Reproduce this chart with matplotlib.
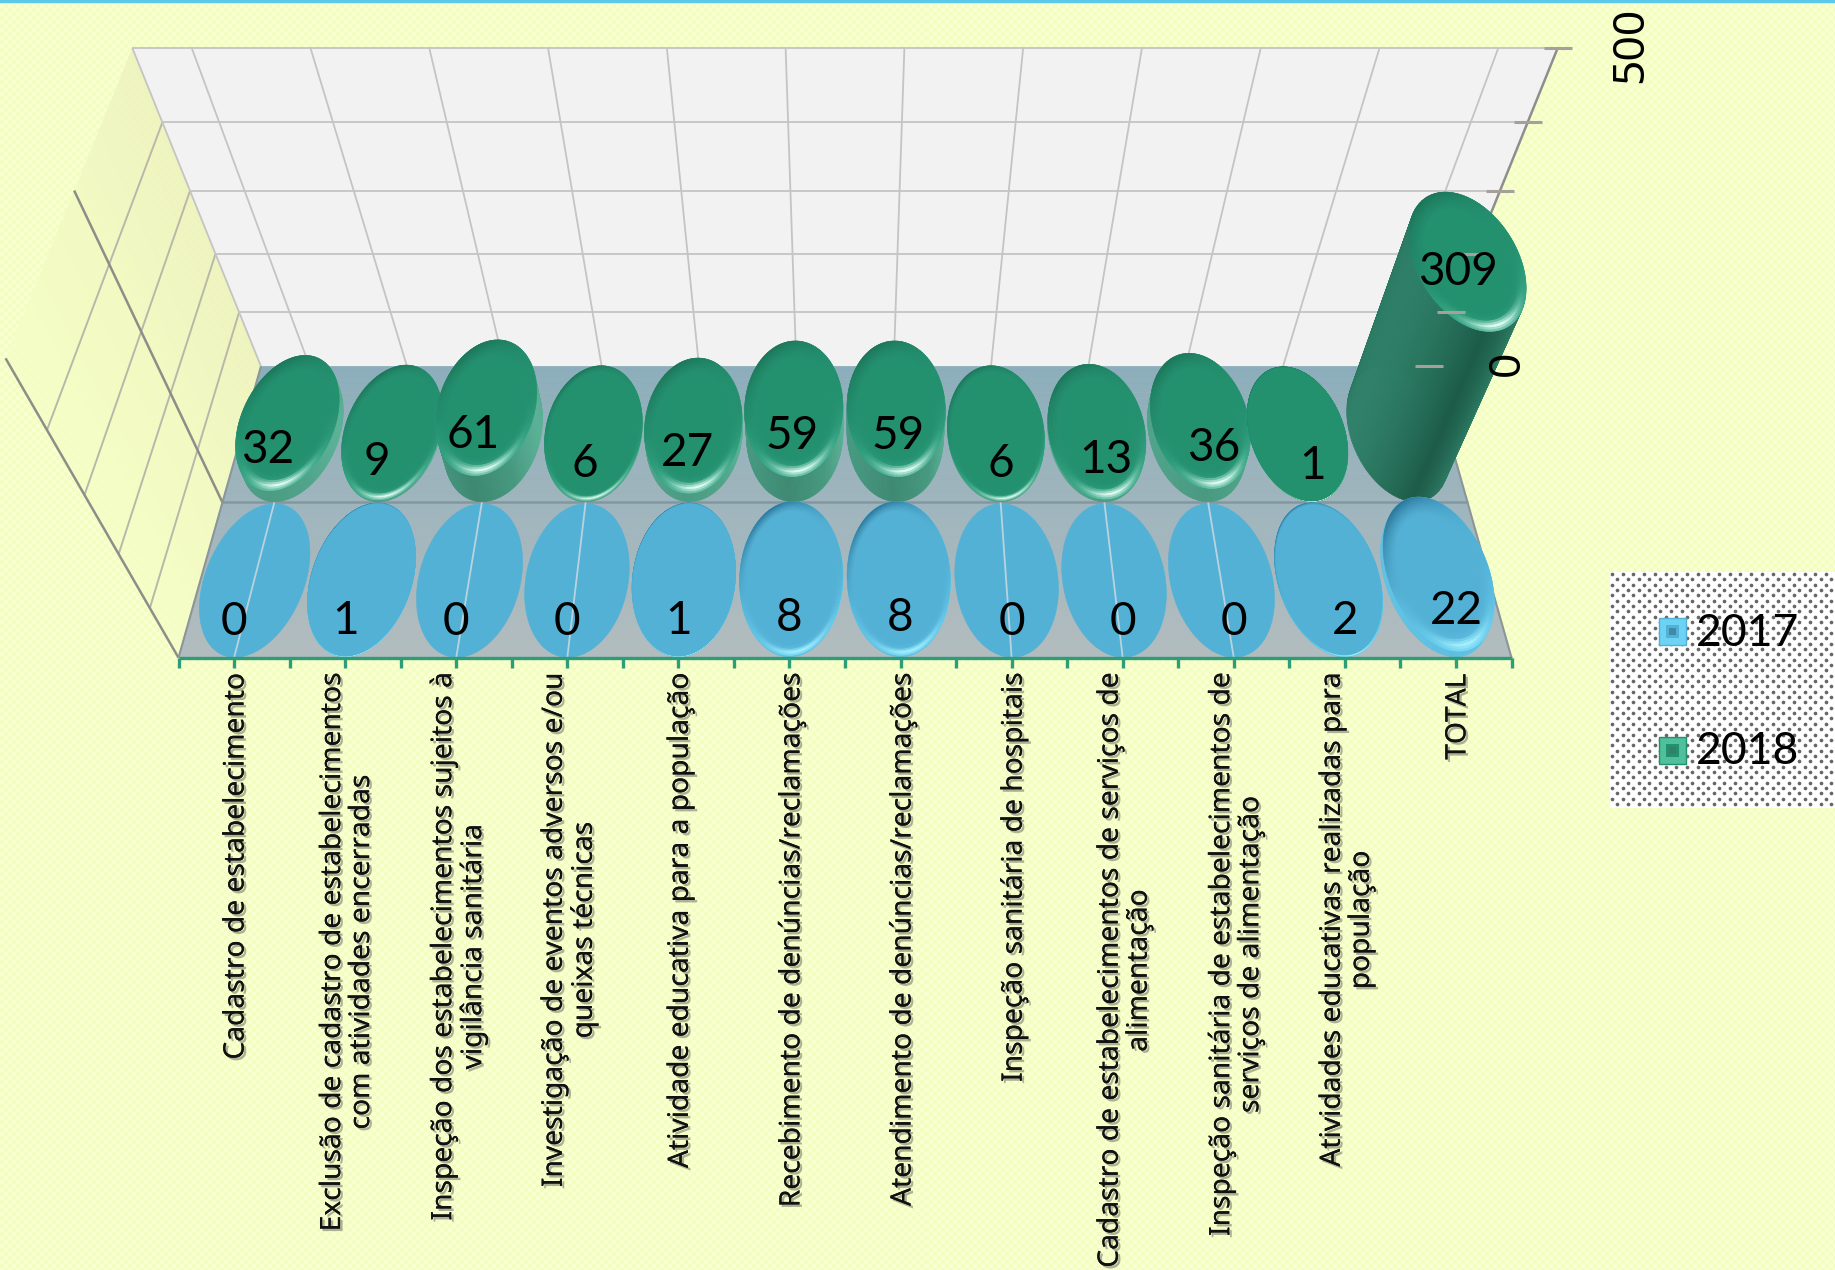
import numpy as np
import matplotlib
matplotlib.use("Agg")
import matplotlib.pyplot as plt
import matplotlib.patheffects as pe
from matplotlib.collections import PolyCollection
from matplotlib.colors import to_rgb

categorias = [
    "Cadastro de estabelecimento",
    "Exclusão de cadastro de estabelecimentos\ncom atividades encerradas",
    "Inspeção dos estabelecimentos sujeitos à\nvigilância sanitária",
    "Investigação de eventos adversos e/ou\nqueixas técnicas",
    "Atividade educativa para a população",
    "Recebimento de denúncias/reclamações",
    "Atendimento de denúncias/reclamações",
    "Inspeção sanitária de hospitais",
    "Cadastro de estabelecimentos de serviços de\nalimentação",
    "Inspeção sanitária de estabelecimentos de\nserviços de alimentação",
    "Atividades educativas realizadas para\npopulação",
    "TOTAL",
]
valores_2017 = [0, 1, 0, 0, 1, 8, 8, 0, 0, 0, 2, 22]
valores_2018 = [32, 9, 61, 6, 27, 59, 59, 6, 13, 36, 1, 309]
ticks_valor = [0, 100, 200, 300, 400, 500]
rotulos_valor = {0: "0", 500: "500"}

FUNDO = "#F5FEC6"
N_CAT = len(categorias)
ZMAX = ticks_valor[-1]


# perspective of the 3d box: x = category, y = depth (0 front, 2 back), z = value
def proj(x, y, z):
    x, y, z = np.asarray(x, float), np.asarray(y, float), np.asarray(z, float)
    w = 1 + 0.0706 * y - 0.000412 * z
    u = 845 + (x - N_CAT / 2) / (N_CAT / 2) * 666.5 / w
    v = (657.7 - 119.8 * y - 0.7464 * z) / w
    return u, v


def mix(c1, c2, t):
    return tuple((1 - t) * np.array(to_rgb(c1)) + t * np.array(to_rgb(c2)))


def linha(ax, a, b, **kw):
    ua, va = proj(*a)
    ub, vb = proj(*b)
    ax.plot([ua, ub], [va, vb], solid_capstyle="butt", **kw)


fig = plt.figure(figsize=(18.35, 12.7), dpi=100, facecolor=FUNDO)
ax = fig.add_axes([0, 0, 1, 1])

# textura leve do fundo
yy, xx = np.mgrid[0:1270, 0:1835]
trama = (((xx // 4) + (yy // 4)) % 2)[..., None]
ax.imshow(trama * np.array(to_rgb("#F8FFD0")) + (1 - trama) * np.array(to_rgb("#F3FDC0")),
          extent=(0, 1835, 1270, 0), interpolation="nearest", zorder=0, aspect="auto")
ax.set_xlim(0, 1835)
ax.set_ylim(1270, 0)
ax.axis("off")

ax.plot([0, 1835], [1, 1], color="#5CC8EA", lw=2.5, zorder=1)

# parede esquerda
for i in range(30):
    y0, y1 = 2 * i / 30, 2 * (i + 1) / 30
    us, vs = proj([0, 0, 0, 0], [y0, y1, y1, y0], [0, 0, ZMAX, ZMAX])
    ax.fill(us, vs, color=mix(FUNDO, "#EEF3BE", (y0 / 2)), alpha=0.9, lw=0, zorder=1)
for t in ticks_valor[1:-1]:
    linha(ax, (0, 0, t), (0, 2, t), color="#B8B8AA", lw=1.4, zorder=2)
linha(ax, (0, 0, 0), (0, 0, ZMAX), color="#8C8F88", lw=1.8, zorder=2)
linha(ax, (0, 1, 0), (0, 1, ZMAX), color="#8C8F88", lw=1.8, zorder=2)

# parede do fundo
us, vs = proj([0, N_CAT, N_CAT, 0], [2, 2, 2, 2], [0, 0, ZMAX, ZMAX])
ax.fill(us, vs, color="#F2F2F2", lw=0, zorder=1)
for t in ticks_valor[1:]:
    linha(ax, (0, 2, t), (N_CAT, 2, t), color="#C4C4C4", lw=1.3, zorder=2)
for c in range(N_CAT):
    linha(ax, (c + 0.5, 2, 0), (c + 0.5, 2, ZMAX), color="#C4C4C4", lw=1.3, zorder=2)
linha(ax, (0, 2, 0), (0, 2, ZMAX), color="#C4C4C4", lw=1.3, zorder=2)
linha(ax, (N_CAT, 2, 0), (N_CAT, 2, ZMAX), color="#8E8E8E", lw=1.8, zorder=2)

# chao
for i in range(40):
    y0, y1 = 2 * i / 40, 2 * (i + 1) / 40
    us, vs = proj([0, N_CAT, N_CAT, 0], [y0, y0, y1, y1], [0, 0, 0, 0])
    ax.fill(us, vs, color=mix("#B2BCBE", "#8BADBB", y0 / 2), lw=0.5, zorder=2)
linha(ax, (0, 1, 0), (N_CAT, 1, 0), color="#84979F", lw=1.8, zorder=2.1)
linha(ax, (0, 0, 0), (0, 2, 0), color="#8B959A", lw=1.5, zorder=2.1)
linha(ax, (N_CAT, 0, 0), (N_CAT, 2, 0), color="#8B959A", lw=1.5, zorder=2.1)

ang = np.linspace(-np.pi, np.pi, 145)
RX, RY = 0.48, 0.495


def circulo(c, yc, z, r=1.0):
    return proj(c + RX * r * np.cos(ang), yc + RY * r * np.sin(ang), z + 0 * ang)


def cilindro(c, yc, val, topo, aba, realce, escuro, lados, zo):
    polys, cores = [], []
    # the bevel pulls the visible cap a little below the bar's value
    ztopo = val - min(val * 0.6, 10)
    if val > 0:
        ub, vb = circulo(c, yc, 0)
        ut, vt = circulo(c, yc, ztopo)
        clareia = np.clip(1 - val / 130, 0, 0.75)
        for i in np.argsort(-np.sin(ang[:-1])):
            polys.append([(ub[i], vb[i]), (ub[i + 1], vb[i + 1]), (ut[i + 1], vt[i + 1]), (ut[i], vt[i])])
            s = np.cos(ang[i])
            r = np.interp(s, [-1, -0.1, 0.6, 1], [0, 1, 2, 3])
            k = min(int(r), 2)
            cores.append(mix(mix(lados[k], lados[k + 1], r - k), lados[3], clareia))
    # tampa com chanfro
    chanfro = 0.24 * min(val / 14, 1)
    n_aneis = 8 if chanfro > 0 else 0
    raios = 1 - chanfro * np.arange(n_aneis + 1) / max(n_aneis, 1)
    for k in range(n_aneis):
        u0, v0 = circulo(c, yc, ztopo, raios[k])
        u1, v1 = circulo(c, yc, ztopo, raios[k + 1])
        peso = (1 - k / n_aneis) ** 1.3
        brilho = max(1 - abs(k - 2) / 3, 0)
        for i in range(len(ang) - 1):
            polys.append([(u0[i], v0[i]), (u0[i + 1], v0[i + 1]), (u1[i + 1], v1[i + 1]), (u1[i], v1[i])])
            frente = max(np.cos(ang[i] + np.radians(80)), 0)
            sombra = max(-np.cos(ang[i] + np.radians(60)), 0) ** 2
            cor = mix(topo, aba, frente * peso)
            cor = mix(cor, escuro, 0.85 * sombra * peso)
            cores.append(mix(cor, realce, min(frente ** 6 * brilho, 1)))
    u, v = circulo(c, yc, ztopo, raios[-1] if n_aneis else 1.0)
    polys.append(np.column_stack([u, v]))
    cores.append(to_rgb(topo))
    ax.add_collection(PolyCollection(polys, facecolors=cores, edgecolors=cores, linewidths=0.4, zorder=zo))


# 2018 na fila de tras, 2017 na frente
lados_2018 = ["#2F8068", "#1B5A46", "#2E7C64", "#5AB195"]
for i, val in enumerate(valores_2018):
    cilindro(i + 0.5, 1.5, val, "#23906E", "#38AE8B", "#E4FFF5", "#1B7257", lados_2018, 3 + i * 0.01)

# marcas do eixo de valores por cima da barra TOTAL
for t in ticks_valor:
    u, v = proj(N_CAT, 2, t)
    ax.plot([u - 14, u + 14], [v, v], color="#A6A09C", lw=2.2, zorder=4, solid_capstyle="butt")

lados_2017 = ["#3A8FB5", "#2F83AA", "#3F9EC6", "#6DD3F5"]
for i, val in enumerate(valores_2017):
    cilindro(i + 0.5, 0.5, val, "#53B1D6", "#66CFF2", "#A5F2FF", "#246E92", lados_2017, 5 + i * 0.01)
    if val == 0:
        linha(ax, (i + 0.5, 0, 0), (i + 0.5, 1, 0), color="#B9D3DE", lw=1.3, zorder=5.5)

# eixo das categorias
linha(ax, (0, 0, 0), (N_CAT, 0, 0), color="#2F9C78", lw=2.4, zorder=6)
for k in range(2 * N_CAT + 1):
    u, v = proj(k / 2, 0, 0)
    ax.plot([u, u], [v, v + 10], color="#2F9C78", lw=2.4, zorder=6, solid_capstyle="butt")

sombra_txt = [pe.withSimplePatchShadow(offset=(1.8, -1.8), shadow_rgbFace="#555555", alpha=0.45), pe.Normal()]
for i, nome in enumerate(categorias):
    u, v = proj(i + 0.5, 0, 0)
    ax.text(u + 2, v + 16, nome, rotation=90, ha="center", va="top", multialignment="center",
            family="Noto Sans", fontsize=20.3, linespacing=1.0, color="#111111",
            path_effects=sombra_txt, zorder=7)

# rotulos de dados
for i, val in enumerate(valores_2017):
    u, _ = proj(i + 0.5, 0, 0)
    _, v = proj(i + 0.5, 0.22, val)
    ax.text(u, v, str(val), ha="center", va="center", family="Lato", fontsize=33, color="black", zorder=8)
for i, val in enumerate(valores_2018):
    u, v = proj(i + 0.5, 1.25, val)
    if val > 100:
        u, v = u - 23, v - 17
    else:
        u, _ = proj(i + 0.5, 1, val)
    ax.text(u, v, str(val), ha="center", va="center", family="Lato", fontsize=33, color="black", zorder=8)

# rotulos do eixo de valores
for t, rot in rotulos_valor.items():
    u, v = proj(N_CAT, 2, t)
    desloc = 74 if t == 500 else 79
    ax.text(u + desloc, v - 3, rot, rotation=90, ha="center", va="center", family="Noto Sans", fontsize=32,
            color="black", zorder=8)

# legenda
ax.fill([1610, 1835, 1835, 1610], [572, 572, 808, 808], color="white", lw=0, zorder=3)
dx = np.arange(1612, 1835, 10.7)
dy = np.arange(574, 808, 5.35)
px, py = [], []
for j, linha_y in enumerate(dy):
    for ponto_x in dx:
        px.append(ponto_x + (5.35 if j % 2 else 0))
        py.append(linha_y)
ax.scatter(np.clip(px, None, 1835), py, s=7, color="#666666", lw=0, zorder=3.1)
for nome, ytop, claro, meio, esc in [("2017", 618, "#6DD3F5", "#53B1D6", "#3F8AA6"),
                                     ("2018", 737, "#4FC09B", "#23906E", "#357F6A")]:
    ax.fill([1659, 1686, 1686, 1659], [ytop, ytop, ytop + 27, ytop + 27], color=claro, ec=meio, lw=1, zorder=4)
    ax.fill([1666, 1679, 1679, 1666], [ytop + 7, ytop + 7, ytop + 20, ytop + 20], color=meio, lw=0, zorder=4.1)
    ax.fill([1669, 1676, 1676, 1669], [ytop + 10, ytop + 10, ytop + 17, ytop + 17], color=esc, lw=0, zorder=4.2)
    ax.text(1696, ytop + 15, nome, ha="left", va="center", family="Lato", fontsize=32, color="black", zorder=5)

fig.savefig("out.png", dpi=100, facecolor=FUNDO)
